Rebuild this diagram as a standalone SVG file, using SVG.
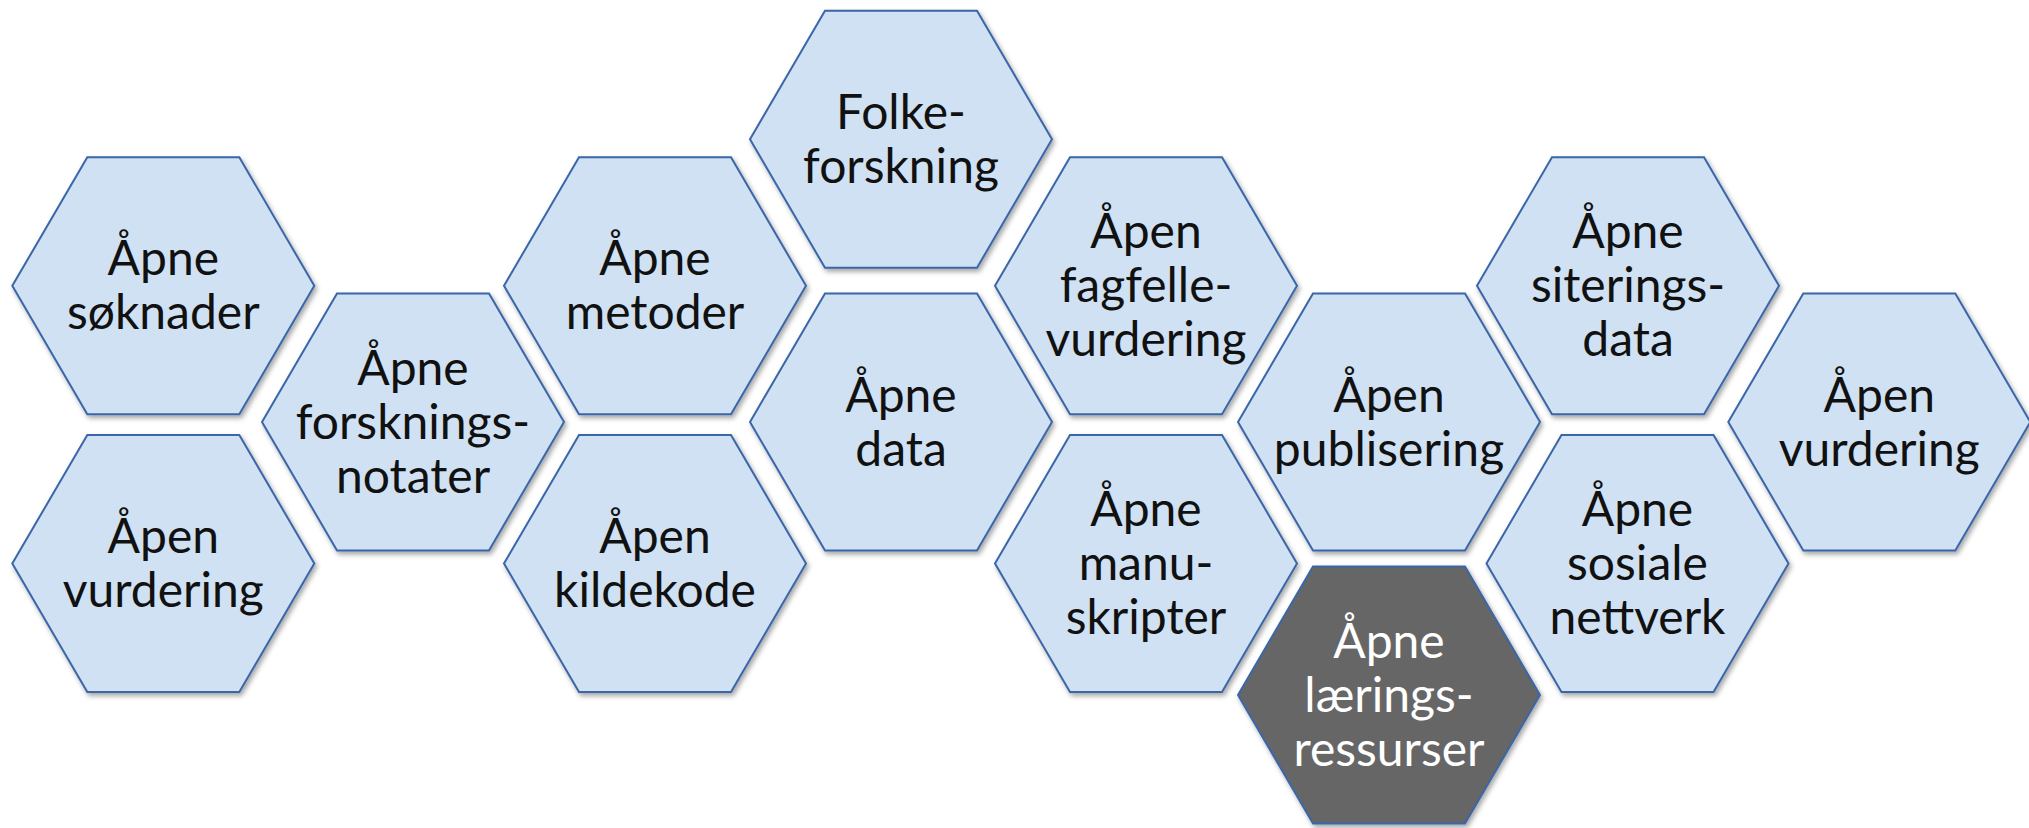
<svg xmlns="http://www.w3.org/2000/svg" xmlns:xlink="http://www.w3.org/1999/xlink" width="2029" height="828" viewBox="0 0 2029 828">
  <style>
    .hex { fill: #CFE1F3; stroke: #3A66A8; stroke-width: 2; filter: url(#shadow); }
    .hex.dark { fill: #666666; }
    .lbl { font-family: Lato, "Open Sans", "Liberation Sans", sans-serif; font-size: 48px; fill: #111111; text-anchor: middle; }
    .lbl.light { fill: #FFFFFF; }
  </style>
  <defs>
    <filter id="shadow" x="-10%" y="-10%" width="125%" height="125%">
      <feDropShadow dx="2" dy="3" stdDeviation="2.5" flood-color="#000000" flood-opacity="0.35"/>
    </filter>
    <polygon id="hexshape" points="-151,0 -76,-128.5 76,-128.5 151,0 76,128.5 -76,128.5"/>
  </defs>
  <rect x="0" y="0" width="2029" height="828" fill="#FFFFFF"/>
  <g id="connectors"/>

  <g id="n-soknader">
    <use href="#hexshape" class="hex" x="163.3" y="285.8"/>
    <text class="lbl" x="163.3" y="275.3">Åpne</text>
    <text class="lbl" x="163.3" y="329.3">søknader</text>
  </g>
  <g id="n-vurdering-venstre">
    <use href="#hexshape" class="hex" x="163.3" y="563.5"/>
    <text class="lbl" x="163.3" y="553">Åpen</text>
    <text class="lbl" x="163.3" y="607">vurdering</text>
  </g>
  <g id="n-forskningsnotater">
    <use href="#hexshape" class="hex" x="413" y="422"/>
    <text class="lbl" x="413" y="384.5">Åpne</text>
    <text class="lbl" x="413" y="438.5">forsknings-</text>
    <text class="lbl" x="413" y="492.5">notater</text>
  </g>
  <g id="n-metoder">
    <use href="#hexshape" class="hex" x="655" y="285.8"/>
    <text class="lbl" x="655" y="275.3">Åpne</text>
    <text class="lbl" x="655" y="329.3">metoder</text>
  </g>
  <g id="n-kildekode">
    <use href="#hexshape" class="hex" x="655" y="563.5"/>
    <text class="lbl" x="655" y="553">Åpen</text>
    <text class="lbl" x="655" y="607">kildekode</text>
  </g>
  <g id="n-folkeforskning">
    <use href="#hexshape" class="hex" x="901" y="139.3"/>
    <text class="lbl" x="901" y="128.8">Folke-</text>
    <text class="lbl" x="901" y="182.8">forskning</text>
  </g>
  <g id="n-data">
    <use href="#hexshape" class="hex" x="901" y="422"/>
    <text class="lbl" x="901" y="411.5">Åpne</text>
    <text class="lbl" x="901" y="465.5">data</text>
  </g>
  <g id="n-fagfellevurdering">
    <use href="#hexshape" class="hex" x="1146" y="285.8"/>
    <text class="lbl" x="1146" y="248.3">Åpen</text>
    <text class="lbl" x="1146" y="302.3">fagfelle-</text>
    <text class="lbl" x="1146" y="356.3">vurdering</text>
  </g>
  <g id="n-manuskripter">
    <use href="#hexshape" class="hex" x="1146" y="563.5"/>
    <text class="lbl" x="1146" y="526">Åpne</text>
    <text class="lbl" x="1146" y="580">manu-</text>
    <text class="lbl" x="1146" y="634">skripter</text>
  </g>
  <g id="n-publisering">
    <use href="#hexshape" class="hex" x="1389" y="422"/>
    <text class="lbl" x="1389" y="411.5">Åpen</text>
    <text class="lbl" x="1389" y="465.5">publisering</text>
  </g>
  <g id="n-laeringsressurser">
    <use href="#hexshape" class="hex dark" x="1389" y="695"/>
    <text class="lbl light" x="1389" y="657.5">Åpne</text>
    <text class="lbl light" x="1389" y="711.5">lærings-</text>
    <text class="lbl light" x="1389" y="765.5">ressurser</text>
  </g>
  <g id="n-siteringsdata">
    <use href="#hexshape" class="hex" x="1628" y="285.8"/>
    <text class="lbl" x="1628" y="248.3">Åpne</text>
    <text class="lbl" x="1628" y="302.3">siterings-</text>
    <text class="lbl" x="1628" y="356.3">data</text>
  </g>
  <g id="n-sosialenettverk">
    <use href="#hexshape" class="hex" x="1637.5" y="563.5"/>
    <text class="lbl" x="1637.5" y="526">Åpne</text>
    <text class="lbl" x="1637.5" y="580">sosiale</text>
    <text class="lbl" x="1637.5" y="634">nettverk</text>
  </g>
  <g id="n-vurdering-hoyre">
    <use href="#hexshape" class="hex" x="1879.3" y="422"/>
    <text class="lbl" x="1879.3" y="411.5">Åpen</text>
    <text class="lbl" x="1879.3" y="465.5">vurdering</text>
  </g>
</svg>
